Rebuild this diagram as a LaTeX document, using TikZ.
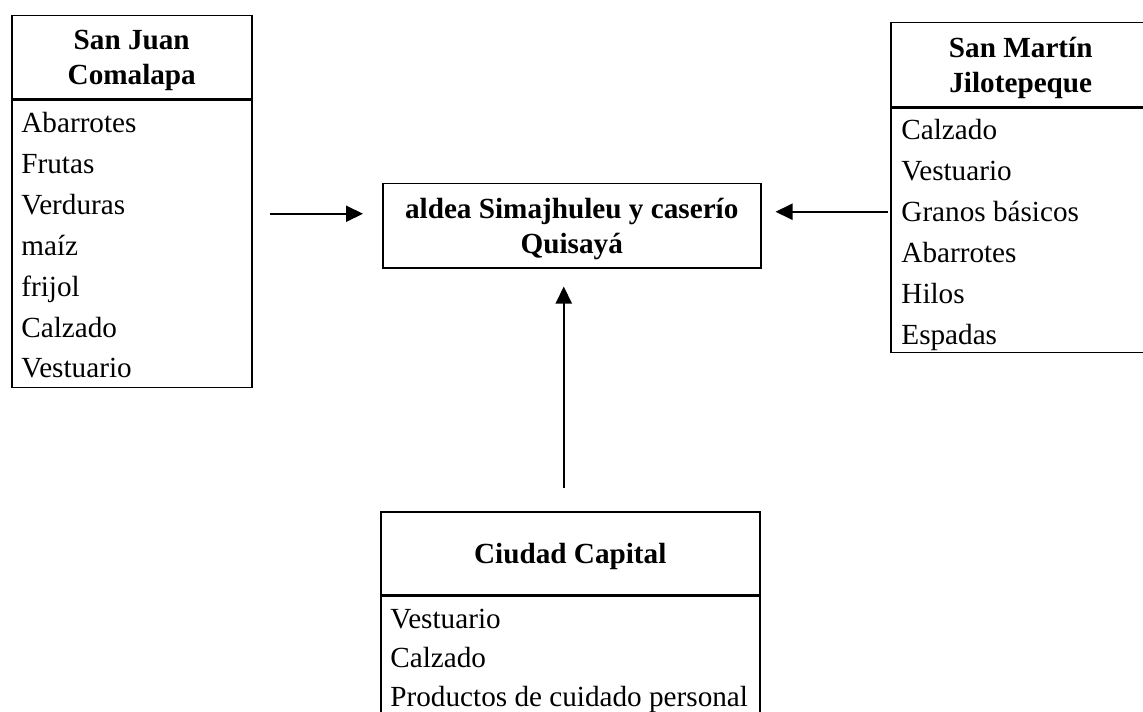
\documentclass[tikz,border=0pt]{standalone}
\usepackage{fontspec}
\setmainfont{Liberation Serif}
\usetikzlibrary{arrows.meta}

\newcommand{\boxfont}{\fontsize{14.6}{16.5}\selectfont}

\tikzset{
  head/.style={draw, line width=0.75pt, font=\fontsize{14.6}{17.5}\selectfont\bfseries,
    align=center, text depth=0pt, inner sep=0pt, anchor=north west, minimum height=41.5pt},
  list/.style={draw, line width=0.75pt, inner sep=0pt, anchor=north west},
  item/.style={anchor=base west, inner sep=0pt},
  flow/.style={-{Triangle[length=8.5pt,width=8pt]}, line width=1pt},
}

\begin{document}
\begin{tikzpicture}[x=0.5pt, y=-0.5pt, font=\boxfont]
\useasboundingbox (0,0) rectangle (1143,711);

% San Juan Comalapa
\node[head, minimum width=120pt] (sj_head) at (11,15) {San Juan\\Comalapa};
\node[list, minimum width=120pt, minimum height=143.5pt] (sj_list) at (sj_head.south west) {};
\foreach \t [count=\k] in {Abarrotes, Frutas, Verduras, maíz, frijol, Calzado, Vestuario} {
  \node[item] (sj_\k) at ([xshift=5pt, yshift=-16.75pt-(\k-1)*20.4pt]sj_list.north west) {\t};
}

% aldea
\node[head, minimum width=189pt, minimum height=42pt] (aldea) at (382,183) {aldea Simajhuleu y caserío\\Quisayá};

% San Martin Jilotepeque
\node[head, minimum width=130pt, minimum height=42pt] (sm_head) at (890,22) {San Martín\\Jilotepeque};
\node[list, minimum width=130pt, minimum height=122pt] (sm_list) at (sm_head.south west) {};
\foreach \t [count=\k] in {Calzado, Vestuario, Granos básicos, Abarrotes, Hilos, Espadas} {
  \node[item] (sm_\k) at ([xshift=5.5pt, yshift=-16pt-(\k-1)*20.5pt]sm_list.north west) {\t};
}

% Ciudad Capital
\node[head, minimum width=189.5pt] (cc_head) at (380,511) {Ciudad Capital};
\node[list, minimum width=189.5pt, minimum height=70pt] (cc_list) at (cc_head.south west) {};
\foreach \t [count=\k] in {Vestuario, Calzado, Productos de cuidado personal} {
  \node[item] (cc_\k) at ([xshift=5pt, yshift=-16.5pt-(\k-1)*19.5pt]cc_list.north west) {\t};
}

% flows
\coordinate (aldea_w) at ([yshift=6pt]aldea.west);
\coordinate (aldea_e) at ([yshift=7pt]aldea.east);
\coordinate (aldea_s) at ([xshift=-4pt]aldea.south);
\draw[flow, shorten <=8.5pt, shorten >=9.5pt] (sj_list.east |- aldea_w) -- (aldea_w);
\draw[flow, shorten <=1pt, shorten >=7pt] (sm_list.west |- aldea_e) -- (aldea_e);
\draw[flow, shorten <=11.5pt, shorten >=9pt] (cc_head.north -| aldea_s) -- (aldea_s);

\end{tikzpicture}
\end{document}
